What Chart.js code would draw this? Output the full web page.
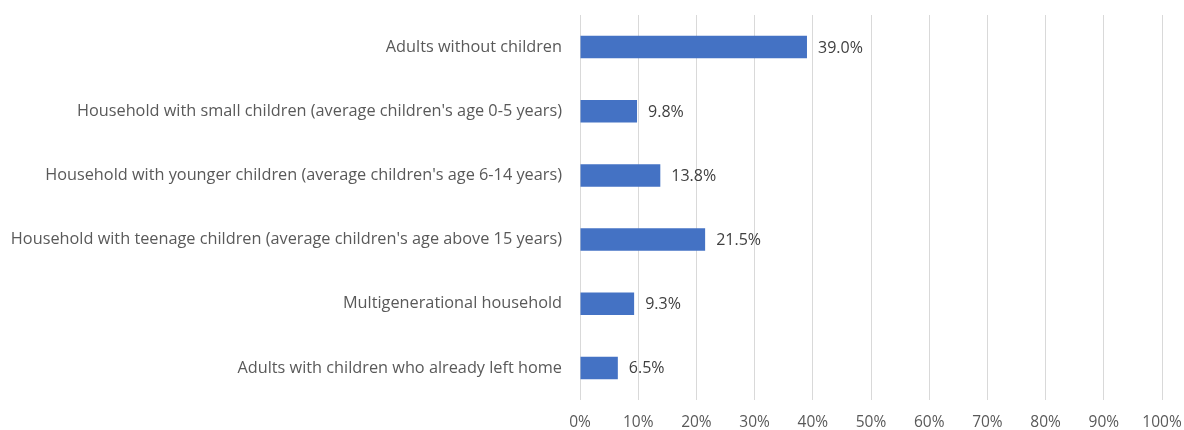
<!DOCTYPE html>
<html>
<head>
<meta charset="utf-8">
<script src="https://cdn.jsdelivr.net/npm/chart.js@4/dist/chart.umd.min.js"></script>
<style>
  body { margin: 0; background: #fff; }
  #wrap { width: 1184px; height: 430px; }
</style>
</head>
<body>
<div id="wrap"><canvas id="graph-household"></canvas></div>
<script>
const categories = [
    'Adults without children',
    "Household with small children (average children's age 0-5 years)",
    "Household with younger children (average children's age 6-14 years)",
    "Household with teenage children (average children's age above 15 years)",
    'Multigenerational household',
    'Adults with children who already left home'
];
const shares = [39.0, 9.8, 13.8, 21.5, 9.3, 6.5];
const xTicks = [0, 10, 20, 30, 40, 50, 60, 70, 80, 90, 100];

const fontFamily = "'Open Sans', 'Liberation Sans', sans-serif";

// writes the percentage just past the end of each bar
const valueLabels = {
    id: 'valueLabels',
    afterDatasetsDraw(chart) {
        const ctx = chart.ctx;
        const meta = chart.getDatasetMeta(0);
        ctx.save();
        ctx.font = '16px ' + fontFamily;
        ctx.fillStyle = '#404040';
        ctx.textAlign = 'left';
        ctx.textBaseline = 'middle';
        meta.data.forEach((bar, i) => {
            ctx.fillText(shares[i].toFixed(1) + '%', bar.x + 11, bar.y + 1);
        });
        ctx.restore();
    }
};

var graphHousehold = document.getElementById('graph-household').getContext('2d');
var household = new Chart(graphHousehold, {
    type: 'bar',
    data: {
        labels: categories,
        datasets: [{
            data: shares,
            backgroundColor: '#4472c4',
            borderWidth: 0,
            categoryPercentage: 1,
            barPercentage: 0.35
        }]
    },
    options: {
        indexAxis: 'y',
        responsive: true,
        maintainAspectRatio: false,
        animation: false,
        layout: { padding: { top: 15, right: 22, left: 0, bottom: 0 } },
        plugins: {
            legend: { display: false },
            tooltip: { enabled: false }
        },
        scales: {
            x: {
                min: 0,
                max: 100,
                afterBuildTicks(axis) {
                    axis.ticks = xTicks.map(v => ({ value: v }));
                },
                afterFit(axis) {
                    axis.height = 30;
                    axis.paddingLeft = 0;
                    axis.paddingRight = 0;
                },
                grid: { color: '#d9d9d9', lineWidth: 1, drawTicks: false },
                border: { display: false },
                ticks: {
                    color: '#595959',
                    font: { family: fontFamily, size: 15.5 },
                    padding: 13,
                    callback: v => v + '%'
                }
            },
            y: {
                afterFit(axis) {
                    axis.width = 580;
                    axis.paddingTop = 0;
                    axis.paddingBottom = 0;
                },
                grid: { display: false },
                border: { display: false },
                ticks: {
                    color: '#595959',
                    font: { family: fontFamily, size: 16.3 },
                    padding: 10
                }
            }
        }
    },
    plugins: [valueLabels]
});
</script>
</body>
</html>
